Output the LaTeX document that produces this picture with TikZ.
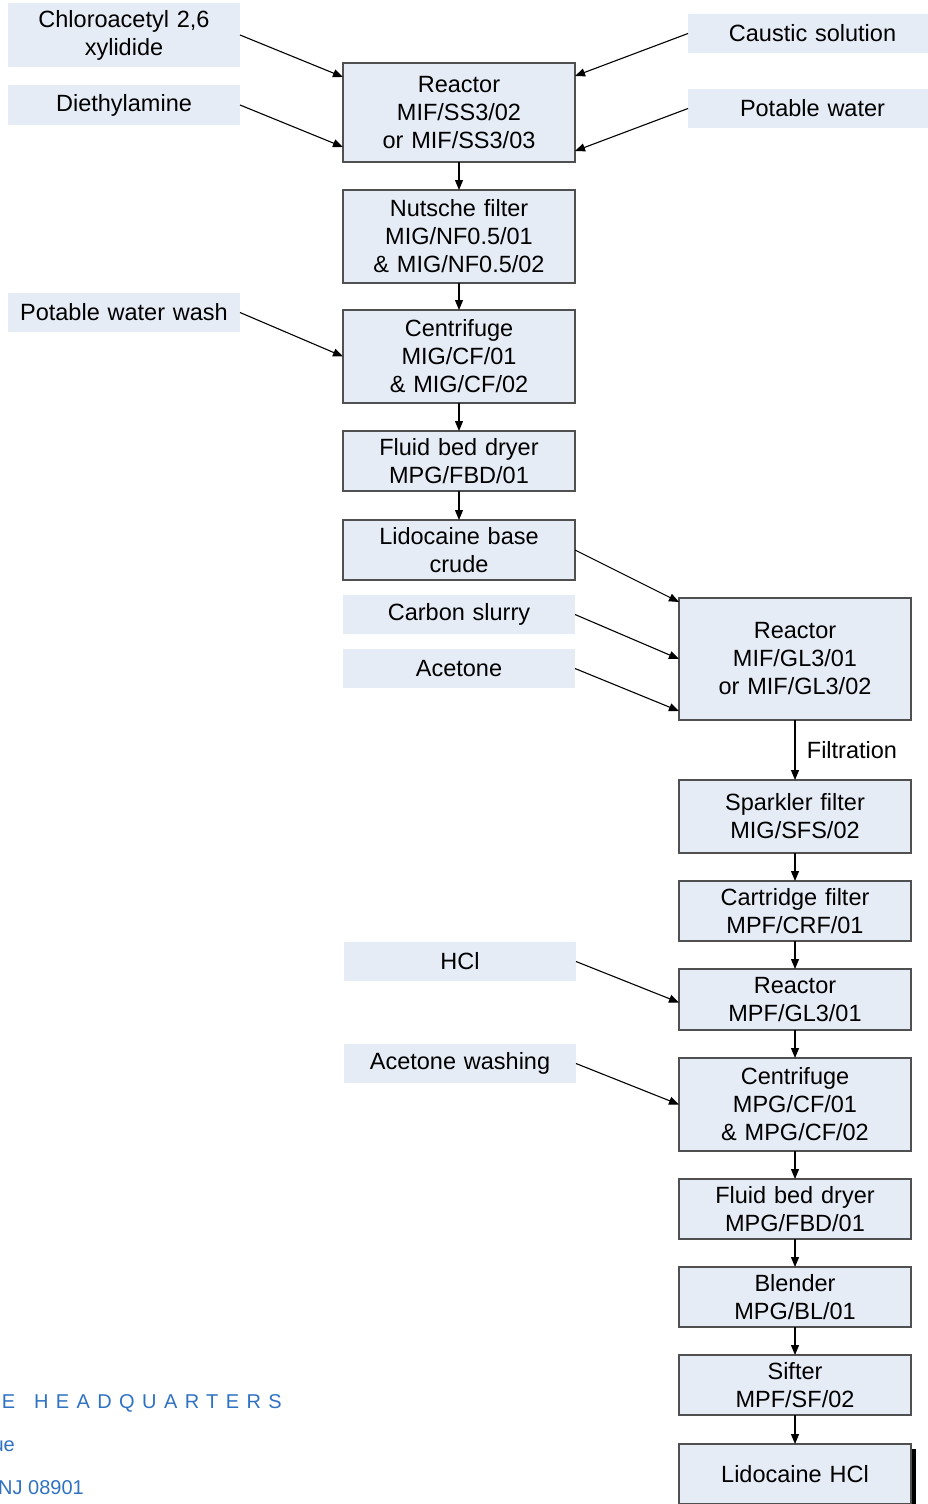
\documentclass[tikz,border=0pt]{standalone}
\usepackage{fontspec}
\setmainfont{Liberation Sans}
\newfontfamily\hqfont[LetterSpace=37]{Liberation Sans}
\usetikzlibrary{positioning,arrows.meta,shadows}

\definecolor{boxfill}{HTML}{E6ECF6}
\definecolor{boxline}{HTML}{505050}
\definecolor{hqblue}{HTML}{2F72C2}

\tikzset{
	stage/.style={draw=boxline, line width=1.2pt, fill=boxfill, minimum width=232pt, text width=228pt, inner xsep=2pt, inner ysep=0pt, outer sep=0pt, align=center, font=\fontsize{23.5}{28}\selectfont},
	feed/.style={stage, draw=none},
	widefeed/.style={feed, minimum width=249pt, text width=245pt},
	flow/.style={-{Triangle[length=10pt,width=8pt]}, line width=1.1pt},
	hq/.style={text=hqblue, inner sep=0pt, font=\fontsize{20}{24}\selectfont}
}

\begin{document}
\begin{tikzpicture}[x=1pt, y=-1pt]
			\useasboundingbox (0,0) rectangle (928,1504);
			
			\node[stage, minimum height=99pt, anchor=north west](r1) at (343,63){Reactor\\MIF/SS3/02\\or MIF/SS3/03};
			\node[stage, minimum height=93pt, below=28pt of r1](nf){Nutsche filter\\MIG/NF0.5/01\\\& MIG/NF0.5/02};
			\node[stage, minimum height=93pt, below=27pt of nf](c1){Centrifuge\\MIG/CF/01\\\& MIG/CF/02};
			\node[stage, minimum height=60pt, below=28pt of c1](fbd1){Fluid bed dryer\\MPG/FBD/01};
			\node[stage, minimum height=60pt, below=29pt of fbd1](lbc){Lidocaine base\\crude};
			\node[feed, minimum height=39pt, below=15pt of lbc](cs){Carbon slurry};
			\node[feed, minimum height=39pt, below=15pt of cs](ac){Acetone};
			
			\node[feed, minimum height=64pt, above left=-4pt and 103pt of r1](chl){Chloroacetyl 2,6\\xylidide};
			\node[feed, minimum height=40pt, below=18pt of chl](dea){Diethylamine};
			\node[widefeed, minimum height=39pt, above right=10pt and 113pt of r1](caus){Caustic solution};
			\node[widefeed, minimum height=39pt, below=36pt of caus](pw){Potable water};
			\node[feed, minimum height=39pt, above left=-22pt and 103pt of c1.north west](pww){Potable water wash};
			
			\node[stage, minimum height=122pt, below right=18pt and 104pt of lbc](r2){Reactor\\MIF/GL3/01\\or MIF/GL3/02};
			\node[stage, minimum height=73pt, below=60pt of r2](sf){Sparkler filter\\MIG/SFS/02};
			\node[stage, minimum height=60pt, below=28pt of sf](cf){Cartridge filter\\MPF/CRF/01};
			\node[stage, minimum height=61pt, below=28pt of cf](r3){Reactor\\MPF/GL3/01};
			\node[stage, minimum height=93pt, below=28pt of r3](c2){Centrifuge\\MPG/CF/01\\\& MPG/CF/02};
			\node[stage, minimum height=60pt, below=28pt of c2](fbd2){Fluid bed dryer\\MPG/FBD/01};
			\node[stage, minimum height=60pt, below=28pt of fbd2](bl){Blender\\MPG/BL/01};
			\node[stage, minimum height=60pt, below=28pt of bl](sft){Sifter\\MPF/SF/02};
			\node[stage, minimum height=60pt, below=29pt of sft, general shadow={fill=black, shadow xshift=5pt, shadow yshift=-5pt}](lh){Lidocaine HCl};
			
			\node[feed, minimum height=39pt, below left=1pt and 103pt of cf](hcl){HCl};
			\node[feed, minimum height=39pt, below left=14pt and 103pt of r3](acw){Acetone washing};
			
			\foreach \a/\b in {r1/nf, nf/c1, c1/fbd1, fbd1/lbc, sf/cf, cf/r3, r3/c2, c2/fbd2, fbd2/bl, bl/sft, sft/lh}
				\draw[flow] (\a) -- (\b);
			\draw[flow] (r2) -- node[right=8pt, font=\fontsize{23.5}{28}\selectfont]{Filtration} (sf);
			
			\draw[flow] (chl.east) -- ([yshift=-14pt]r1.north west);
			\draw[flow] (dea.east) -- ([yshift=15pt]r1.south west);
			\draw[flow] (caus.west) -- ([yshift=-13pt]r1.north east);
			\draw[flow] (pw.west) -- ([yshift=11pt]r1.south east);
			\draw[flow] (pww.east) -- (c1.west);
			\draw[flow] (lbc.east) -- ([yshift=-4pt]r2.north west);
			\draw[flow] (cs.east) -- (r2.west);
			\draw[flow] (ac.east) -- ([yshift=9pt]r2.south west);
			\draw[flow] (hcl.east) -- ([yshift=-3pt]r3.west);
			\draw[flow] (acw.east) -- (c2.west);
			
			\node[hq, anchor=base east](hq1) at (282,1408){\hqfont E\hspace{6pt} HEADQUARTERS};
			\node[hq, anchor=base east](hq2) at (15,1451){ue};
			\node[hq, anchor=base east](hq3) at (84,1494){NJ 08901};

		\end{tikzpicture}
\end{document}
